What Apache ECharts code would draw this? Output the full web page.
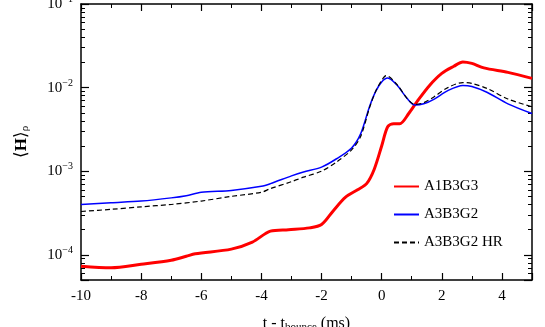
<!DOCTYPE html>
<html>
<head>
<meta charset="utf-8">
<script src="https://cdn.jsdelivr.net/npm/echarts@6/dist/echarts.min.js"></script>
<style>
html,body{margin:0;padding:0;background:#fff;}
#chart{width:545px;height:327px;}
</style>
</head>
<body>
<div id="chart"></div>
<script>
// t - t_bounce (ms) and <H>_rho
var tRed = [-10, -9, -8, -7, -6.5, -6.2, -5, -4.3, -3.7, -3.1, -2.4, -2.0, -1.6, -1.2, -0.8, -0.5, -0.25, 0, 0.2, 0.4, 0.6, 0.9, 1.2, 1.6, 2.0, 2.4, 2.7, 3.0, 3.4, 4.2, 5.0];
var hRed = [7.3e-5, 7.0e-5, 7.7e-5, 8.6e-5, 9.6e-5, 1.03e-4, 1.17e-4, 1.42e-4, 1.92e-4, 2.0e-4, 2.1e-4, 2.3e-4, 3.4e-4, 4.9e-4, 6.0e-4, 7.1e-4, 1.05e-3, 2.0e-3, 3.4e-3, 3.7e-3, 3.7e-3, 4.9e-3, 7.0e-3, 1.07e-2, 1.48e-2, 1.8e-2, 2.03e-2, 1.95e-2, 1.72e-2, 1.52e-2, 1.29e-2];

var tBlue = [-10, -9, -8, -7, -6.5, -6, -5, -4, -3.7, -3, -2.6, -2, -1.5, -1.0, -0.7, -0.4, -0.2, 0, 0.2, 0.5, 0.85, 1.1, 1.4, 1.75, 2.2, 2.7, 3.0, 3.5, 4.2, 5.0];
var hBlue = [4.0e-4, 4.2e-4, 4.4e-4, 4.8e-4, 5.1e-4, 5.6e-4, 5.9e-4, 6.6e-4, 7.1e-4, 8.8e-4, 9.8e-4, 1.12e-3, 1.41e-3, 1.9e-3, 2.8e-3, 6.0e-3, 9.0e-3, 1.17e-2, 1.30e-2, 1.08e-2, 7.4e-3, 6.2e-3, 6.4e-3, 7.3e-3, 9.2e-3, 1.06e-2, 1.03e-2, 8.8e-3, 6.4e-3, 4.9e-3];

var tHR = [-10, -9, -8, -7, -6, -5, -4, -3.7, -3, -2.6, -2, -1.5, -1.0, -0.7, -0.4, -0.2, 0, 0.15, 0.5, 0.85, 1.1, 1.4, 1.75, 2.2, 2.7, 3.0, 3.5, 4.2, 5.0];
var hHR = [3.3e-4, 3.5e-4, 3.75e-4, 4.0e-4, 4.4e-4, 5.0e-4, 5.6e-4, 6.2e-4, 7.5e-4, 8.5e-4, 1.0e-3, 1.29e-3, 1.8e-3, 2.6e-3, 5.8e-3, 9.0e-3, 1.22e-2, 1.39e-2, 1.1e-2, 7.4e-3, 6.3e-3, 6.6e-3, 7.8e-3, 1.0e-2, 1.15e-2, 1.12e-2, 9.8e-3, 7.3e-3, 5.9e-3];

var names = ['A1B3G3', 'A3B3G2', 'A3B3G2 HR'];

// minor log ticks: 5..9 x 1e-5, 2..9 x 1e-4 .. 1e-2
var minorY = [5e-5, 6e-5, 7e-5, 8e-5, 9e-5];
[1e-4, 1e-3, 1e-2].forEach(function (d) {
    for (var k = 2; k <= 9; k++) minorY.push(k * d);
});

function pairs(xs, ys) {
    return xs.map(function (x, i) { return [x, ys[i]]; });
}

var serif = 'Liberation Serif';
var sup = {'-1': '−1', '-2': '−2', '-3': '−3', '-4': '−4'};

var chart = echarts.init(document.getElementById('chart'));

var frameX = {
    type: 'value',
    min: -10,
    max: 5,
    interval: 2,
    axisLine: {onZero: false, lineStyle: {color: '#000', width: 1.5}},
    axisTick: {inside: true, length: 7, lineStyle: {color: '#000', width: 1.2}},
    minorTick: {show: true, splitNumber: 2, length: 4, lineStyle: {color: '#000', width: 1}},
    splitLine: {show: false}
};
var frameY = {
    type: 'log',
    logBase: 10,
    min: 5e-5,
    max: 0.1,
    axisLine: {onZero: false, lineStyle: {color: '#000', width: 1.5}},
    axisTick: {inside: true, length: 8, lineStyle: {color: '#000', width: 1.2}},
    splitLine: {show: false}
};
var minorYAxis = {
    type: 'log',
    logBase: 10,
    min: 5e-5,
    max: 0.1,
    axisLine: {show: false, onZero: false},
    axisTick: {inside: true, length: 4, customValues: minorY, lineStyle: {color: '#000', width: 1}},
    axisLabel: {show: false},
    splitLine: {show: false}
};

var option = {
    animation: false,
    textStyle: {fontFamily: serif},
    grid: {left: 81, right: 13, top: 4, bottom: 47, outerBoundsMode: 'none'},
    legend: {
        orient: 'vertical',
        left: 388,
        top: 174,
        itemWidth: 25,
        itemHeight: 14,
        itemGap: 13,
        itemStyle: {opacity: 0},
        textStyle: {fontFamily: serif, fontSize: 15, color: '#000'},
        data: names
    },
    xAxis: [Object.assign({}, frameX, {
        name: 't - t{s|bounce} (ms)',
        nameLocation: 'middle',
        nameGap: 34,
        nameTextStyle: {
            fontFamily: serif, fontSize: 16, color: '#000',
            rich: {s: {fontFamily: serif, fontSize: 11, padding: [8, 0, 0, 0]}}
        },
        axisLabel: {color: '#000', fontSize: 15, margin: 9, fontFamily: serif, showMaxLabel: false}
    }), Object.assign({}, frameX, {
        position: 'top',
        axisLabel: {show: false}
    })],
    yAxis: [Object.assign({}, frameY, {
        position: 'left',
        name: '⟨{b|H}⟩{r|ρ}',
        nameLocation: 'middle',
        nameGap: 50,
        nameRotate: 90,
        nameTextStyle: {
            fontFamily: serif, fontSize: 17, color: '#000',
            rich: {
                b: {fontFamily: serif, fontSize: 17, fontWeight: 'bold'},
                r: {fontFamily: serif, fontSize: 11, padding: [8, 0, 0, 0]}
            }
        },
        axisLabel: {
            color: '#000', fontSize: 15, margin: 8, fontFamily: serif,
            formatter: function (v) {
                var e = Math.round(Math.log10(v));
                if (Math.abs(Math.log10(v) - e) > 1e-6) return '';
                return '10{e|' + sup[String(e)] + '}';
            },
            rich: {e: {fontFamily: serif, fontSize: 10, padding: [0, 0, 9, 0]}}
        }
    }), Object.assign({}, frameY, {
        position: 'right',
        axisLabel: {show: false}
    }), Object.assign({}, minorYAxis, {position: 'left'}),
        Object.assign({}, minorYAxis, {position: 'right'})],
    series: [
        {
            name: names[0],
            type: 'line',
            smooth: 0.3,
            symbol: 'none',
            lineStyle: {color: '#ff0000', width: 3},
            itemStyle: {color: '#ff0000'},
            data: pairs(tRed, hRed)
        },
        {
            name: names[1],
            type: 'line',
            smooth: 0.3,
            symbol: 'none',
            lineStyle: {color: '#0000ff', width: 1.5},
            itemStyle: {color: '#0000ff'},
            data: pairs(tBlue, hBlue)
        },
        {
            name: names[2],
            type: 'line',
            smooth: 0.3,
            symbol: 'none',
            lineStyle: {color: '#000', width: 1.2, type: [5, 3]},
            itemStyle: {color: '#000'},
            data: pairs(tHR, hHR)
        }
    ]
};

chart.setOption(option);
</script>
</body>
</html>
